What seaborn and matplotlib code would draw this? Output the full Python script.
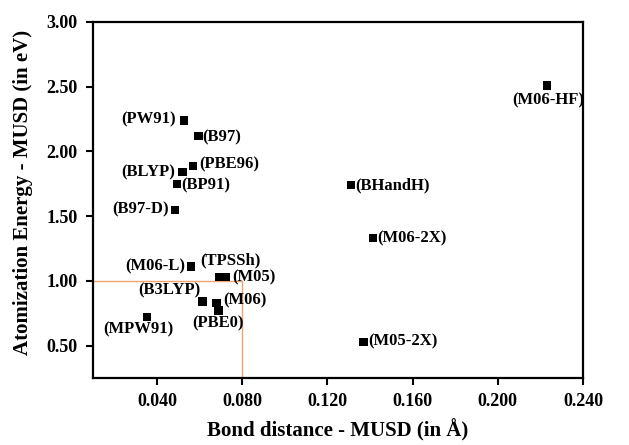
import matplotlib
matplotlib.use('Agg')
import matplotlib.pyplot as plt
import pandas as pd
import seaborn as sns

# Functionals and their MUSD values
functionals = ['PW91', 'B97', 'PBE96', 'BLYP', 'BP91', 'B97-D', 'M06-L', 'TPSSh',
               'M05', 'B3LYP', 'M06', 'PBE0', 'MPW91', 'BHandH', 'M06-2X', 'M05-2X', 'M06-HF']
bond_musd = [0.0528, 0.0594, 0.0570, 0.0519, 0.0495, 0.0486, 0.0560, 0.0690,
             0.0722, 0.0613, 0.0679, 0.0688, 0.0354, 0.1310, 0.1413, 0.1370, 0.2232]
energy_musd = [2.24, 2.12, 1.89, 1.84, 1.75, 1.55, 1.11, 1.03,
               1.03, 0.84, 0.83, 0.77, 0.72, 1.74, 1.33, 0.53, 2.51]

x_ticks = [0.040, 0.080, 0.120, 0.160, 0.200, 0.240]
y_ticks = [0.50, 1.00, 1.50, 2.00, 2.50, 3.00]

df = pd.DataFrame({'name': functionals, 'bond': bond_musd, 'energy': energy_musd})

# label placement: (dx, dy) in points, horizontal alignment
label_pos = {
    'PW91': (-6, 1, 'right'), 'B97': (3, -1, 'left'), 'PBE96': (4, 1, 'left'),
    'BLYP': (-5, 0, 'right'), 'BP91': (3, -1, 'left'), 'B97-D': (-5, 0, 'right'),
    'M06-L': (-4, 0, 'right'), 'TPSSh': (-13, 12, 'left'), 'M05': (5, 0, 'left'),
    'B3LYP': (-1, 8, 'right'), 'M06': (5, 2, 'left'), 'PBE0': (0, -9, 'center'),
    'MPW91': (-6, -9, 'center'), 'BHandH': (3, 0, 'left'), 'M06-2X': (3, 0, 'left'),
    'M05-2X': (3, 0, 'left'), 'M06-HF': (1, -11, 'center'),
}

sns.set_style('ticks')
plt.rcParams['font.family'] = ['Liberation Serif', 'DejaVu Serif']
plt.rcParams['font.weight'] = 'bold'
plt.rcParams['text.color'] = 'black'
plt.rcParams['axes.labelcolor'] = 'black'

fig = plt.figure(figsize=(6.29, 4.45), dpi=100)
ax = fig.add_axes([0.148, 0.1506, 0.779, 0.80])

# reference box for the 0.08 A / 1.00 eV thresholds
ax.plot([0.01, 0.080, 0.080], [1.00, 1.00, 0.25], color='#F2A46E', lw=1.0, zorder=1)

sns.scatterplot(data=df, x='bond', y='energy', marker='s', s=36, color='black',
                edgecolor='none', ax=ax, zorder=3)

for _, row in df.iterrows():
    dx, dy, ha = label_pos[row['name']]
    ax.annotate('(' + row['name'] + ')', (row['bond'], row['energy']),
                xytext=(dx, dy), textcoords='offset points', ha=ha, va='center',
                fontsize=12, fontweight='bold', color='black')

ax.set_xlim(0.01, 0.24)
ax.set_ylim(0.25, 3.00)
ax.set_xticks(x_ticks)
ax.set_yticks(y_ticks)
ax.set_xticklabels(['%.3f' % v for v in x_ticks])
ax.set_yticklabels(['%.2f' % v for v in y_ticks])
ax.tick_params(direction='out', length=5, width=1.5, labelsize=13, pad=6,
               color='black', labelcolor='black')
for lab in ax.get_xticklabels() + ax.get_yticklabels():
    lab.set_fontweight('bold')
for sp in ax.spines.values():
    sp.set_linewidth(1.6)
    sp.set_color('black')
    sp.set_visible(True)

ax.set_xlabel('Bond distance - MUSD (in \u00c5)', fontsize=15, fontweight='bold', labelpad=6)
ax.set_ylabel('Atomization Energy - MUSD (in eV)', fontsize=15, fontweight='bold')
ax.yaxis.set_label_coords(-0.122, 0.522)

fig.savefig('out.png', dpi=100)
